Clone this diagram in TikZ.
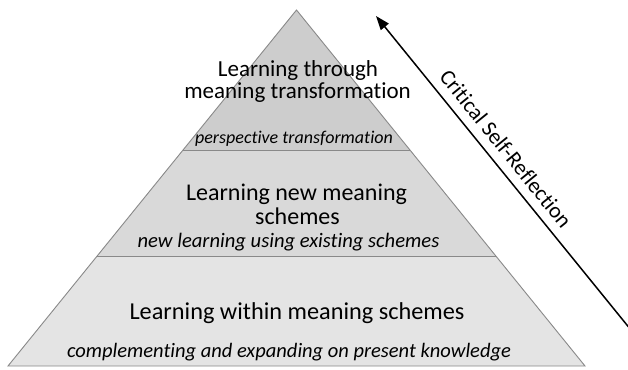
\documentclass[tikz,border=0pt]{standalone}
\usepackage{fontspec}
\setmainfont{Carlito}[Ligatures=NoCommon]
\usetikzlibrary{arrows.meta}
\definecolor{topfill}{RGB}{205,205,205}
\definecolor{midfill}{RGB}{217,217,217}
\definecolor{botfill}{RGB}{228,228,228}
\definecolor{edgegray}{RGB}{137,137,137}
\tikzset{
  layer/.style={draw=edgegray, line width=0.9pt},
  lbl/.style={anchor=base, inner sep=0pt},
  arrowline/.style={line width=1.5pt, -{Triangle[length=14pt,width=10pt]}},
}
\begin{document}
\begin{tikzpicture}[x=1pt,y=-1pt]
\useasboundingbox (0,0) rectangle (628,369);
\coordinate (apex) at (296.5,10);
\coordinate (l1) at (183,150);
\coordinate (r1) at (410,150);
\coordinate (l2) at (97,256);
\coordinate (r2) at (496,256);
\coordinate (bl) at (8,366);
\coordinate (br) at (585,366);
\fill[botfill] (l2) -- (r2) -- (br) -- (bl) -- cycle;
\fill[midfill] (l1) -- (r1) -- (r2) -- (l2) -- cycle;
\fill[topfill] (apex) -- (r1) -- (l1) -- cycle;
\draw[layer] (apex) -- (bl) -- (br) -- cycle;
\draw[layer] (l1) -- (r1);
\draw[layer] (l2) -- (r2);
\node[lbl, font=\fontsize{23}{27}\selectfont] (t1a) at (298,76) {Learning through};
\node[lbl, font=\fontsize{23}{27}\selectfont] (t1b) at (297.5,98.5) {meaning transformation};
\node[lbl, font=\fontsize{18}{22}\selectfont\itshape] (s1) at (294,143) {perspective transformation};
\node[lbl, font=\fontsize{24}{28}\selectfont] (t2a) at (296.5,200) {Learning new meaning};
\node[lbl, font=\fontsize{24}{28}\selectfont] (t2b) at (297.5,224) {schemes};
\node[lbl, font=\fontsize{20.6}{24}\selectfont\itshape] (s2) at (288.5,247) {new learning using existing schemes};
\node[lbl, font=\fontsize{24.3}{28}\selectfont] (t3) at (297,319) {Learning within meaning schemes};
\node[lbl, font=\fontsize{20.5}{24}\selectfont\itshape] (s3) at (289,357) {complementing and expanding on present knowledge};
\coordinate (arrowstart) at (631,330);
\coordinate (arrowend) at (376,16);
\draw[arrowline] (arrowstart) -- (arrowend);
\node[font=\fontsize{22}{26}\selectfont, rotate=-51, inner sep=0pt] (crit) at (506,149) {Critical Self-Reflection};
\end{tikzpicture}
\end{document}
